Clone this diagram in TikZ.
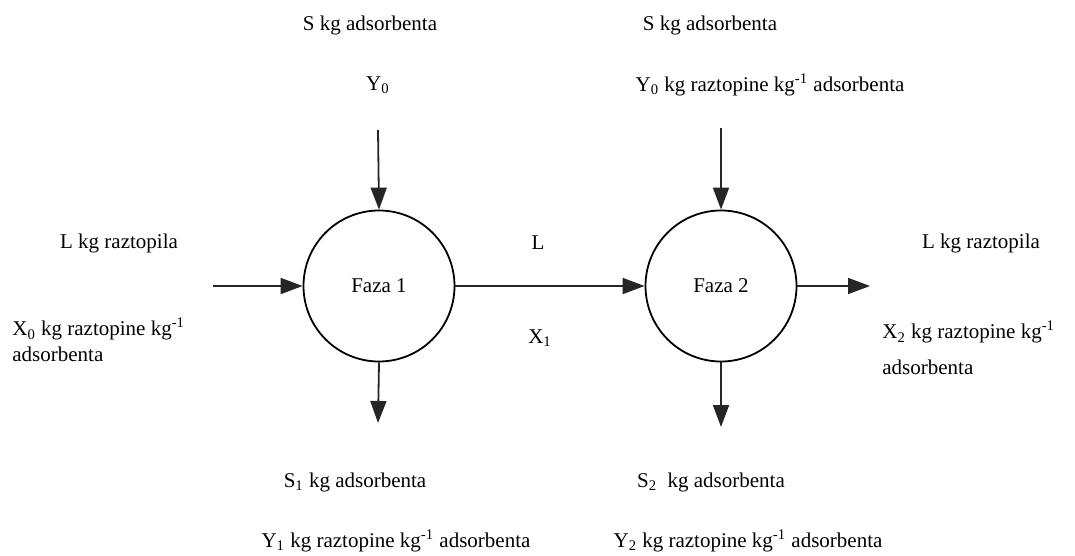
\documentclass[tikz,border=0pt]{standalone}
\usepackage{fontspec}
\setmainfont{Liberation Serif}
\usetikzlibrary{arrows.meta,positioning}

\begin{document}
\begin{tikzpicture}[x=0.5pt,y=-0.5pt,>={Triangle[length=11pt,width=8pt]},font=\fontsize{10.5}{13}\selectfont,
  faza/.style={draw,circle,line width=0.9pt,minimum size=75.5pt,inner sep=0pt},
  tok/.style={->,line width=0.9pt,draw=black!85},
  lbl/.style={inner sep=0pt}]
\useasboundingbox (0,0) rectangle (1075,556);
% the two stages
\node[faza] (f1) at (379,286) {Faza 1};
\node[faza] (f2) at (721,286) {Faza 2};
% free ends of the streams
\coordinate (in1) at (378,130);
\coordinate (in2) at (721,128);
\coordinate (lin) at (213,286);
\coordinate (lout) at (870,286);
\coordinate (out1) at (378,423);
\coordinate (out2) at (721,427);
\draw[tok] (in1) -- (f1.north);
\draw[tok] (in2) -- (f2.north);
\draw[tok] (lin) -- (f1.west);
\draw[tok] (f1.east) -- (f2.west);
\draw[tok] (f2.east) -- (lout);
\draw[tok] (f1.south) -- (out1);
\draw[tok] (f2.south) -- (out2);
% labels on top
\node[lbl] (s0a) at (370,25) {S kg adsorbenta};
\node[lbl] (y0a) at (378,85) {Y\textsubscript{0}};
\node[lbl] (s0b) at (710,25) {S kg adsorbenta};
\node[lbl] (y0b) at (770,85) {Y\textsubscript{0} kg raztopine kg\textsuperscript{-1} adsorbenta};
% labels left and right
\node[lbl] (la) at (119,243) {L kg raztopila};
\node[lbl,anchor=west,align=left] (x0) at (12,340) {X\textsubscript{0} kg raztopine kg\textsuperscript{-1}\\adsorbenta};
\node[lbl] (lm) at (538,243) {L};
\node[lbl] (x1) at (540,338) {X\textsubscript{1}};
\node[lbl] (lb) at (981,243) {L kg raztopila};
\node[lbl,anchor=west,align=left] (x2) at (882,348) {X\textsubscript{2} kg raztopine kg\textsuperscript{-1}\\[5pt]adsorbenta};
% labels below
\node[lbl] (s1) at (355,482) {S\textsubscript{1} kg adsorbenta};
\node[lbl] (y1) at (396,541) {Y\textsubscript{1} kg raztopine kg\textsuperscript{-1} adsorbenta};
\node[lbl] (s2) at (711,482) {S\textsubscript{2}\ \ kg adsorbenta};
\node[lbl] (y2) at (748,541) {Y\textsubscript{2} kg raztopine kg\textsuperscript{-1} adsorbenta};
\end{tikzpicture}
\end{document}
